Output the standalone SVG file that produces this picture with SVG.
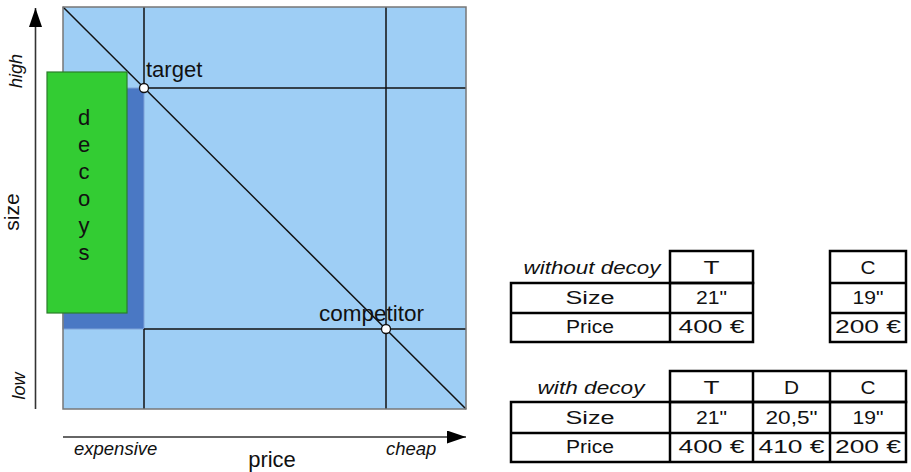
<svg xmlns="http://www.w3.org/2000/svg" width="911" height="472" viewBox="0 0 911 472">
  <defs>
    <marker id="arrow" viewBox="0 0 19 13" refX="19" refY="6.5" markerWidth="19" markerHeight="13" markerUnits="userSpaceOnUse" orient="auto">
      <path d="M0,0 L19,6.5 L0,13 Z" fill="#000"/>
    </marker>
  </defs>
  <style>
    .lbl { font-family: "Liberation Sans", Arial, sans-serif; fill: #111; }
    .it { font-style: italic; }
    .grid { stroke: #111; stroke-width: 1.5; fill: none; }
    .pt { fill: #fff; stroke: #111; stroke-width: 1.3; }
    .tb { font-family: "Liberation Sans", Arial, sans-serif; font-size: 18px; fill: #111; text-anchor: middle; }
    .cell { fill: none; stroke: #000; stroke-width: 2.5; }
  </style>
  <rect width="911" height="472" fill="#fff"/>

  <!-- price/size plane -->
  <g id="plane">
    <rect x="63" y="7" width="403" height="402" fill="#9ecef5"/>
    <rect id="decoy-zone" x="63" y="88" width="81" height="241" fill="#4a78c4" stroke="#7ea2d8" stroke-width="1"/>
    <line class="grid" x1="144" y1="7" x2="144" y2="88"/>
    <line class="grid" x1="144" y1="329" x2="144" y2="409"/>
    <line class="grid" x1="386" y1="7" x2="386" y2="409"/>
    <line class="grid" x1="144" y1="88" x2="466" y2="88"/>
    <line class="grid" x1="144" y1="329" x2="466" y2="329"/>
    <line class="grid" x1="63" y1="7" x2="466" y2="409"/>
    <rect x="63" y="7" width="403" height="402" fill="none" stroke="#777" stroke-width="1.5"/>
  </g>

  <g id="decoys">
    <rect x="47" y="72" width="80" height="241" fill="#33cc33" stroke="#2b7d2b" stroke-width="1.2"/>
    <g class="lbl" font-size="22" text-anchor="middle">
      <text x="84" y="125">d</text>
      <text x="84" y="152">e</text>
      <text x="84" y="179">c</text>
      <text x="84" y="206">o</text>
      <text x="84" y="233">y</text>
      <text x="84" y="260">s</text>
    </g>
  </g>

  <g id="target">
    <circle class="pt" cx="144" cy="88" r="4.5"/>
    <text class="lbl" x="146" y="77" font-size="22">target</text>
  </g>

  <g id="competitor">
    <circle class="pt" cx="386" cy="329" r="4.5"/>
    <text class="lbl" x="319" y="321" font-size="22.5">competitor</text>
  </g>

  <!-- axes -->
  <g id="axes">
    <line x1="35.5" y1="409" x2="35.5" y2="8" stroke="#333" stroke-width="1.6" marker-end="url(#arrow)"/>
    <line x1="63" y1="437" x2="466" y2="437" stroke="#333" stroke-width="1.6" marker-end="url(#arrow)"/>
    <text class="lbl it" font-size="18" transform="translate(22,71) rotate(-90)" text-anchor="middle">high</text>
    <text class="lbl" font-size="21" transform="translate(18.5,212) rotate(-90)" text-anchor="middle">size</text>
    <text class="lbl it" font-size="18" transform="translate(25,386) rotate(-90)" text-anchor="middle">low</text>
    <text class="lbl it" font-size="18.5" x="74" y="455">expensive</text>
    <text class="lbl it" font-size="18.5" x="386" y="455">cheap</text>
    <text class="lbl" font-size="22" x="272" y="467" text-anchor="middle">price</text>
  </g>

  <!-- table without decoy -->
  <g id="table-without">
    <rect class="cell" x="670" y="251" width="83" height="32"/>
    <rect class="cell" x="511" y="283" width="242" height="59"/>
    <line class="cell" x1="511" y1="313" x2="753" y2="313"/>
    <line class="cell" x1="670" y1="283" x2="670" y2="342"/>
    <rect class="cell" x="830" y="251" width="76" height="91"/>
    <line class="cell" x1="830" y1="283" x2="906" y2="283"/>
    <line class="cell" x1="830" y1="313" x2="906" y2="313"/>
    <text class="tb" font-style="italic" x="592" y="274" textLength="137" lengthAdjust="spacingAndGlyphs">without decoy</text>
    <text class="tb" x="711.5" y="274" textLength="16" lengthAdjust="spacingAndGlyphs">T</text>
    <text class="tb" x="868" y="274" textLength="15" lengthAdjust="spacingAndGlyphs">C</text>
    <text class="tb" x="590" y="304" textLength="49" lengthAdjust="spacingAndGlyphs">Size</text>
    <text class="tb" x="590" y="333" textLength="48" lengthAdjust="spacingAndGlyphs">Price</text>
    <text class="tb" x="711.5" y="304" textLength="31" lengthAdjust="spacingAndGlyphs">21"</text>
    <text class="tb" x="711.5" y="333" textLength="66" lengthAdjust="spacingAndGlyphs">400 €</text>
    <text class="tb" x="868" y="304" textLength="31" lengthAdjust="spacingAndGlyphs">19"</text>
    <text class="tb" x="868" y="333" textLength="66" lengthAdjust="spacingAndGlyphs">200 €</text>
  </g>

  <!-- table with decoy -->
  <g id="table-with">
    <rect class="cell" x="670" y="371" width="236" height="31"/>
    <rect class="cell" x="511" y="402" width="395" height="60"/>
    <line class="cell" x1="511" y1="433" x2="906" y2="433"/>
    <line class="cell" x1="670" y1="402" x2="670" y2="462"/>
    <line class="cell" x1="753" y1="371" x2="753" y2="462"/>
    <line class="cell" x1="830" y1="371" x2="830" y2="462"/>
    <text class="tb" font-style="italic" x="591" y="394" textLength="107" lengthAdjust="spacingAndGlyphs">with decoy</text>
    <text class="tb" x="711.5" y="394" textLength="16" lengthAdjust="spacingAndGlyphs">T</text>
    <text class="tb" x="791.5" y="394" textLength="15" lengthAdjust="spacingAndGlyphs">D</text>
    <text class="tb" x="868" y="394" textLength="15" lengthAdjust="spacingAndGlyphs">C</text>
    <text class="tb" x="590" y="424" textLength="49" lengthAdjust="spacingAndGlyphs">Size</text>
    <text class="tb" x="590" y="453" textLength="48" lengthAdjust="spacingAndGlyphs">Price</text>
    <text class="tb" x="711.5" y="424" textLength="31" lengthAdjust="spacingAndGlyphs">21"</text>
    <text class="tb" x="711.5" y="453" textLength="66" lengthAdjust="spacingAndGlyphs">400 €</text>
    <text class="tb" x="791.5" y="424" textLength="52" lengthAdjust="spacingAndGlyphs">20,5"</text>
    <text class="tb" x="791.5" y="453" textLength="66" lengthAdjust="spacingAndGlyphs">410 €</text>
    <text class="tb" x="868" y="424" textLength="31" lengthAdjust="spacingAndGlyphs">19"</text>
    <text class="tb" x="868" y="453" textLength="66" lengthAdjust="spacingAndGlyphs">200 €</text>
  </g>
</svg>
